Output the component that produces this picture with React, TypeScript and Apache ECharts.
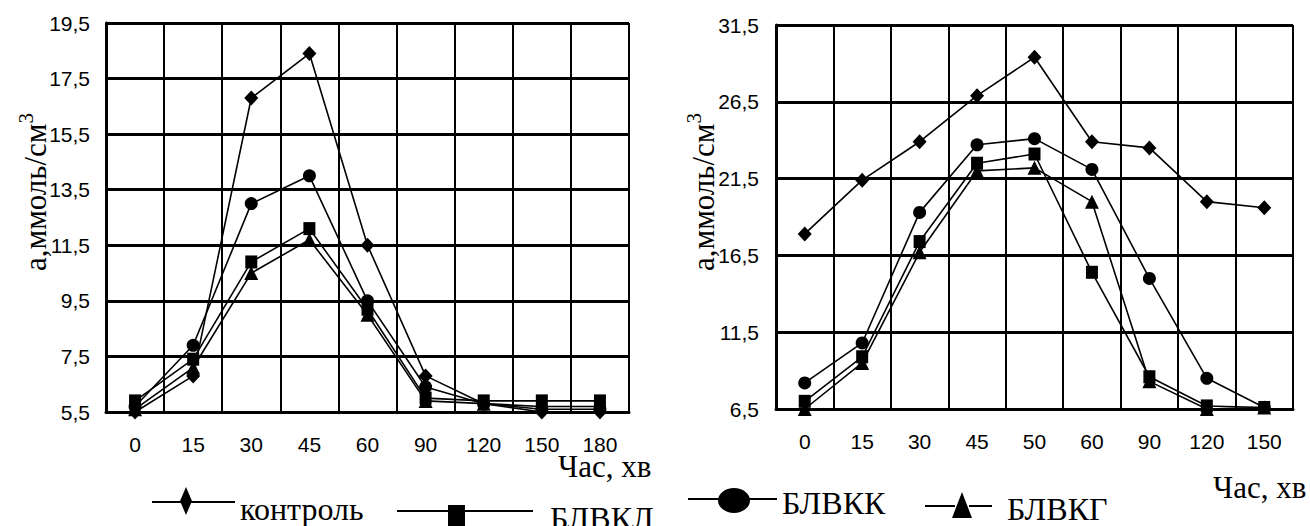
import React, { useEffect, useRef } from 'react';
import * as echarts from 'echarts';

const leftCategories = ['0', '15', '30', '45', '60', '90', '120', '150', '180'];
const rightCategories = ['0', '15', '30', '45', '50', '60', '90', '120', '150'];
const seriesNames = ['контроль', 'БЛВКЛ', 'БЛВКК', 'БЛВКГ'];

const leftControl = [5.5, 6.8, 16.8, 18.4, 11.5, 6.8, 5.8, 5.5, 5.5];
const leftBLVKL = [5.9, 7.4, 10.9, 12.1, 9.2, 6.0, 5.9, 5.9, 5.9];
const leftBLVKK = [5.7, 7.9, 13.0, 14.0, 9.5, 6.4, 5.8, 5.6, 5.6];
const leftBLVKG = [5.6, 7.1, 10.5, 11.7, 9.0, 5.9, 5.8, 5.7, 5.7];

const rightControl = [17.9, 21.4, 23.9, 26.9, 29.4, 23.9, 23.5, 20.0, 19.6];
const rightBLVKL = [7.0, 9.9, 17.4, 22.5, 23.1, 15.4, 8.6, 6.7, 6.6];
const rightBLVKK = [8.2, 10.8, 19.3, 23.7, 24.1, 22.1, 15.0, 8.5, 6.6];
const rightBLVKG = [6.5, 9.5, 16.7, 22.0, 22.2, 20.0, 8.3, 6.5, 6.6];

const leftYMin = 5.5, leftYMax = 19.5, leftYStep = 2;
const rightYMin = 6.5, rightYMax = 31.5, rightYStep = 5;

const yAxisTitle = 'а,ммоль/см';
const xAxisTitle = 'Час, хв';

const sans = '"Liberation Sans", Arial, sans-serif';
const serif = '"Liberation Serif", "Times New Roman", serif';

const symbols = ['diamond', 'rect', 'circle', 'triangle'];
const symbolSizes: any[] = [[14, 15], [12, 13], 13, 14];

const legendIcons = [
  // контроль
  { left: 152, top: 487, w: 83, h: 44,
    path: 'path://M0,14L30,14L30,16L0,16Z M38,14L83,14L83,16L38,16Z M34,0L40,14L34,28L28,14Z M0,44L0.3,44L0,43.7Z' },
  // БЛВКЛ
  { left: 397, top: 502, w: 148, h: 26,
    path: 'path://M0,5L52,5L52,7L0,7Z M67,5L136,5L136,7L67,7Z M51,0L68,0L68,23L51,23Z M147.7,26L148,26L148,25.7Z' },
  // БЛВКК
  { left: 688, top: 487, w: 89, h: 30,
    path: 'path://M0,10L32,10L32,12L0,12Z M60,10L89,10L89,12L60,12Z M30,12.5A16,12.5 0 1 1 62,12.5A16,12.5 0 1 1 30,12.5Z M88.7,30L89,30L89,29.7Z' },
  // БЛВКГ
  { left: 925, top: 492, w: 77, h: 34,
    path: 'path://M0,13L30,13L30,15L0,15Z M44,13L67,13L67,15L44,15Z M37,0L47,26L27,26Z M76.7,34L77,34L77,33.7Z' },
];

const fmt = (v: number) => v.toFixed(1).replace('.', ',');

export default function App() {
  const ref = useRef<HTMLDivElement>(null);
  useEffect(() => {
    if (!ref.current) return;
    const chart = echarts.init(ref.current, undefined, { renderer: 'svg' });

    const leftData = [leftControl, leftBLVKL, leftBLVKK, leftBLVKG];
    const rightData = [rightControl, rightBLVKL, rightBLVKK, rightBLVKG];

    const mkSeries = (i: number, data: number[], idx: number) => ({
      type: 'line',
      name: seriesNames[i],
      data,
      xAxisIndex: idx,
      yAxisIndex: idx,
      symbol: symbols[i],
      symbolSize: symbolSizes[i],
      lineStyle: { color: '#000', width: 1.6 },
      itemStyle: { color: '#000' },
      emphasis: { disabled: true },
    });

    const xAxisCommon = (cats: string[], gridIndex: number) => ({
      gridIndex,
      type: 'category',
      data: cats,
      boundaryGap: true,
      axisLine: { show: true, lineStyle: { color: '#000', width: 3 } },
      axisTick: { show: false },
      axisLabel: { color: '#000', fontSize: 21, fontFamily: sans, margin: 22, interval: 0 },
      splitLine: { show: true, interval: 0, lineStyle: { color: '#000', width: 2 } },
    });

    const yAxisCommon = (min: number, max: number, interval: number, gridIndex: number, margin: number) => ({
      gridIndex,
      type: 'value',
      min, max, interval,
      axisLine: { show: true, lineStyle: { color: '#000', width: 3 } },
      axisTick: { show: false },
      axisLabel: { color: '#000', fontSize: 21, fontFamily: sans, margin, formatter: fmt },
      splitLine: { show: true, lineStyle: { color: '#000', width: 3 } },
    });

    const yTitle = (x: number) => ({
      type: 'text',
      x, y: 192,
      rotation: Math.PI / 2,
      style: {
        text: '{a|' + yAxisTitle + '}{s|3}',
        align: 'center',
        verticalAlign: 'middle',
        rich: {
          a: { fontSize: 31, fontFamily: serif, fill: '#000', lineHeight: 40 },
          s: { fontSize: 21, fontFamily: serif, fill: '#000', verticalAlign: 'top' },
        },
      },
    });

    const option: any = {
      animation: false,
      backgroundColor: '#fff',
      grid: [
        { left: 106, top: 23, width: 523, height: 389, containLabel: false },
        { left: 776, top: 25, width: 517, height: 384, containLabel: false },
      ],
      xAxis: [xAxisCommon(leftCategories, 0), xAxisCommon(rightCategories, 1)],
      yAxis: [
        yAxisCommon(leftYMin, leftYMax, leftYStep, 0, 16),
        yAxisCommon(rightYMin, rightYMax, rightYStep, 1, 17),
      ],
      legend: legendIcons.map((li, i) => ({
        data: [{ name: seriesNames[i], icon: li.path }],
        left: li.left,
        top: li.top,
        padding: 0,
        itemWidth: li.w,
        itemHeight: li.h,
        symbolKeepAspect: false,
        itemStyle: { color: '#000', borderWidth: 0 },
        textStyle: { color: '#000', fontSize: 32, fontFamily: serif },
        selectedMode: false,
      })),
      series: [
        ...leftData.map((d, i) => mkSeries(i, d, 0)),
        ...rightData.map((d, i) => mkSeries(i, d, 1)),
      ],
      graphic: [
        yTitle(35),
        yTitle(703),
        {
          type: 'text', x: 558, y: 466,
          style: { text: xAxisTitle, fontSize: 31, fontFamily: serif, fill: '#000', align: 'left', verticalAlign: 'middle' },
        },
        {
          type: 'text', x: 1213, y: 487,
          style: { text: xAxisTitle, fontSize: 31, fontFamily: serif, fill: '#000', align: 'left', verticalAlign: 'middle' },
        },
      ],
    };
    chart.setOption(option);
    return () => chart.dispose();
  }, []);
  return <div ref={ref} style={{ position: 'absolute', left: 0, top: 0, width: 1310, height: 526 }} />;
}
